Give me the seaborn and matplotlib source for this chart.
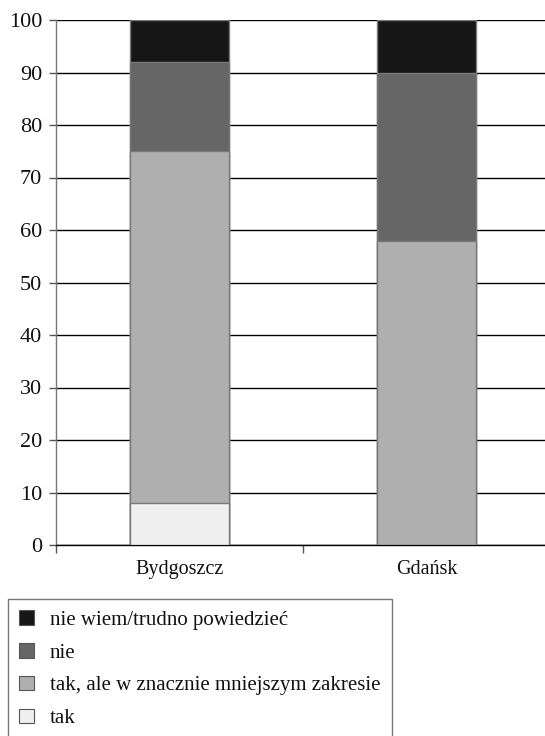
import matplotlib
matplotlib.use("Agg")
import matplotlib.pyplot as plt
from matplotlib.patches import Patch
import seaborn as sns
import pandas as pd
import numpy as np

cities = ["Bydgoszcz", "Gdańsk"]
tak = [8, 0]
tak_ale = [67, 58]
nie = [17, 32]
nie_wiem = [8, 10]

series_names = ["tak", "tak, ale w znacznie mniejszym zakresie", "nie", "nie wiem/trudno powiedzieć"]
series_values = [tak, tak_ale, nie, nie_wiem]
colors = ["#efefef", "#afafaf", "#666666", "#161616"]

sns.set_theme(style="white")
plt.rcParams["font.family"] = ["Liberation Serif", "DejaVu Serif"]
plt.rcParams["font.serif"] = ["Liberation Serif", "DejaVu Serif"]

fig = plt.figure(figsize=(5.45, 7.36), dpi=100)
ax = fig.add_axes([56/545, 1 - 545/736, (550-56)/545, (545-20)/736])

cum = np.cumsum(np.array(series_values), axis=0)
# draw from top layer to bottom layer (overlapping cumulative bars)
for i in range(len(series_names) - 1, -1, -1):
    df = pd.DataFrame({"city": cities, "value": cum[i]})
    sns.barplot(data=df, x="city", y="value", color=colors[i], width=0.4,
                edgecolor="#7a7a7a", linewidth=1.0, saturation=1, ax=ax, zorder=3)

ax.set_xlim(-0.5, 1.5)
ax.set_ylim(0, 100)
ax.set_yticks(range(0, 101, 10))
ax.yaxis.grid(True, color="black", linewidth=1.0, zorder=0)
ax.set_axisbelow(True)
ax.set_xlabel("")
ax.set_ylabel("")
ax.tick_params(axis="y", which="major", direction="out", length=5, width=1, color="#555555",
               labelsize=16, pad=5, left=True)
ax.set_xticks([0, 1])
ax.set_xticklabels(cities)
ax.set_xticks([-0.5, 0.5, 1.5], minor=True)
ax.tick_params(axis="x", which="major", length=0, labelsize=14.5, pad=11)
ax.tick_params(axis="x", which="minor", direction="out", length=6, width=1, color="#555555", bottom=True)
for s in ["top", "right"]:
    ax.spines[s].set_visible(False)
ax.spines["left"].set_color("#777777")
ax.spines["bottom"].set_color("black")
ax.spines["left"].set_linewidth(1.0)
ax.spines["bottom"].set_linewidth(1.0)
for lbl in ax.get_yticklabels() + ax.get_xticklabels():
    lbl.set_color("#111111")
    lbl.set_fontfamily(["Liberation Serif", "DejaVu Serif"])

handles = [Patch(facecolor=colors[i], edgecolor="#555555", linewidth=0.8) for i in range(3, -1, -1)]
labels = [series_names[i] for i in range(3, -1, -1)]
leg = fig.legend(handles, labels, loc="upper left", bbox_to_anchor=(8/545, 1 - 599/736),
                 frameon=True, fancybox=False, edgecolor="#555555",
                 prop={"family": ["Liberation Serif", "DejaVu Serif"], "size": 15},
                 handlelength=0.7, handleheight=0.7, handletextpad=0.75, labelspacing=0.63,
                 borderpad=0.55, borderaxespad=0)
leg.get_frame().set_linewidth(1.0)
for t in leg.get_texts():
    t.set_color("#111111")

fig.savefig("out.png", dpi=100)
